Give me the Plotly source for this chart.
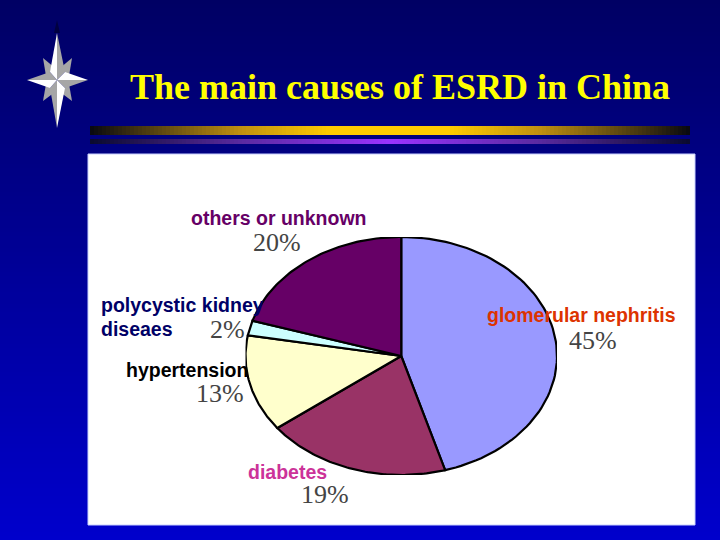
import numpy as np
import plotly.graph_objects as go

# pie values, clockwise from 12 o'clock (as printed, they add up to 99)
causes = ['glomerular nephritis', 'diabetes', 'hypertension', 'polycystic kidney diseaes', 'others or unknown']
percents = [45, 19, 13, 2, 20]
slice_colors = ['#9999FF', '#993366', '#FFFFCC', '#CCFFFF', '#660066']

title = 'The main causes of ESRD in China'

# text labels: text, x, y, colour
name_labels = [
    ('others or unknown', 189, 218, '#660066'),
    ('polycystic kidney', 99, 305, '#000066'),
    ('diseaes', 99, 329, '#000066'),
    ('hypertension', 124, 370, '#000000'),
    ('diabetes', 246, 471.5, '#CC3399'),
    ('glomerular nephritis', 485, 315, '#DD3300'),
]
pct_labels = [
    ('20%', 251, 242),
    ('2%', 208, 329),
    ('13%', 194, 393),
    ('19%', 299, 494),
    ('45%', 567, 340),
]

# four pointed star, pinwheel facets
star_white = [
    [(57, 33), (50, 72), (57, 80)],
    [(88, 80), (65, 72), (57, 80)],
    [(57, 128), (65, 88), (57, 80)],
    [(27, 80), (50, 88), (57, 80)],
]
star_grey = [
    [(57, 33), (65, 72), (57, 80)],
    [(88, 80), (65, 88), (57, 80)],
    [(57, 128), (50, 88), (57, 80)],
    [(27, 80), (50, 72), (57, 80)],
    [(43, 58), (55, 68), (46, 76)],
    [(72, 58), (60, 68), (69, 76)],
    [(43, 101), (55, 92), (46, 84)],
    [(72, 101), (60, 92), (69, 84)],
]
star_shadow = [(57, 20), (54, 33), (60, 33)]

fig = go.Figure()

# slide background
bg_edges = np.linspace(0, 540, 136)
bg_z = [[v] for v in np.linspace(0, 1, 135)]
fig.add_trace(go.Heatmap(x=[0, 720], y=bg_edges, z=bg_z, showscale=False, hoverinfo='skip',
                         zmin=0, zmax=1, colorscale=[[0, '#000064'], [1, '#0000CC']]))

# gold and purple rule
rule_edges = np.linspace(90, 690, 151)
rule_z = [list(1 - np.abs(np.linspace(-1, 1, 150)))]
fig.add_trace(go.Heatmap(x=rule_edges, y=[126, 135], z=rule_z, showscale=False, hoverinfo='skip',
                         zmin=0, zmax=1,
                         colorscale=[[0, '#0A0A10'], [0.5, '#C09010'], [0.8, '#FFCC00'], [1, '#FFCC00']]))
fig.add_trace(go.Heatmap(x=rule_edges, y=[139, 144], z=rule_z, showscale=False, hoverinfo='skip',
                         zmin=0, zmax=1,
                         colorscale=[[0, '#0A0A30'], [0.5, '#5A2AA0'], [1, '#9933FF']]))

# white panel
fig.add_trace(go.Scatter(x=[88, 695, 695, 88, 88], y=[154, 154, 525, 525, 154], mode='lines',
                         fill='toself', fillcolor='#FFFFFF', line=dict(color='#C8D0FF', width=1),
                         hoverinfo='skip', showlegend=False))

for facets, color in [([star_shadow], '#000040'), (star_grey, '#A6A6A6'), (star_white, '#FFFFFF')]:
    for facet in facets:
        xs = [p[0] for p in facet] + [facet[0][0]]
        ys = [p[1] for p in facet] + [facet[0][1]]
        fig.add_trace(go.Scatter(x=xs, y=ys, mode='lines', fill='toself', fillcolor=color,
                                 line=dict(width=0), hoverinfo='skip', showlegend=False))

# the pie is squashed in the picture, so it is drawn on its own axes
start = 0
total = sum(percents)
for name, pct, color in zip(causes, percents, slice_colors):
    a = np.linspace(start, start + pct, 80) / total * 2 * np.pi
    xs = [0] + list(np.sin(a)) + [0]
    ys = [0] + list(np.cos(a)) + [0]
    fig.add_trace(go.Scatter(x=xs, y=ys, xaxis='x2', yaxis='y2', mode='lines', fill='toself',
                             fillcolor=color, line=dict(color='#000000', width=2.2), name=name,
                             text=f'{name}: {pct}%', hoverinfo='text', showlegend=False))
    start += pct

annotations = [dict(text=f'<b>{title}</b>', x=400, y=87, xref='x', yref='y', showarrow=False,
                    font=dict(family='Liberation Serif', size=36, color='#FFFF00'))]
for text, x, y, color in name_labels:
    annotations.append(dict(text=f'<b>{text}</b>', x=x, y=y, xref='x', yref='y', xanchor='left', showarrow=False,
                            font=dict(family='Liberation Sans', size=19.5, color=color)))
for text, x, y in pct_labels:
    annotations.append(dict(text=text, x=x, y=y, xref='x', yref='y', xanchor='left', showarrow=False,
                            font=dict(family='Liberation Serif', size=26, color='#444444')))

hidden = dict(visible=False, fixedrange=True)
fig.update_layout(
    width=720, height=540, margin=dict(l=0, r=0, t=0, b=0), showlegend=False,
    paper_bgcolor='#000064', plot_bgcolor='rgba(0,0,0,0)',
    xaxis=dict(range=[0, 720], domain=[0, 1], **hidden),
    yaxis=dict(range=[540, 0], domain=[0, 1], **hidden),
    xaxis2=dict(range=[-1, 1], domain=[245.5 / 720, 557 / 720], anchor='y2', **hidden),
    yaxis2=dict(range=[-1, 1], domain=[1 - 475 / 540, 1 - 237 / 540], anchor='x2', **hidden),
    annotations=annotations,
)

fig.write_html("out.html", config=dict(displayModeBar=False),
               post_script="document.body.style.margin='0';document.body.style.overflow='hidden';")
